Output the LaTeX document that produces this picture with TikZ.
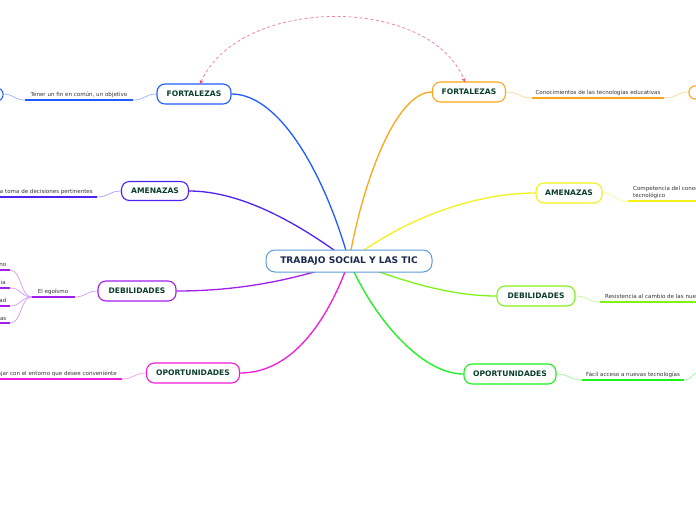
\documentclass[tikz,border=0pt]{standalone}
\usepackage{fontspec}
\setmainfont{DejaVu Sans}
\usetikzlibrary{arrows.meta}
\definecolor{cblue}{HTML}{1F5BFF}
\definecolor{cindigo}{HTML}{4E22F0}
\definecolor{cpurple}{HTML}{A21EEB}
\definecolor{cmagenta}{HTML}{F21ADB}
\definecolor{corange}{HTML}{FFA51A}
\definecolor{cyellow}{HTML}{F2F21A}
\definecolor{clime}{HTML}{7FF21A}
\definecolor{cgreen}{HTML}{1AF21A}
\definecolor{croot}{HTML}{5B9BD5}
\definecolor{ctext}{HTML}{0B3D2C}
\definecolor{croottext}{HTML}{1B2A4E}
\definecolor{cpink}{HTML}{E8507A}
\pgfdeclarelayer{bg}
\pgfsetlayers{bg,main}
\tikzset{
  mainbox/.style={draw=#1, line width=1.1pt, rounded corners=8pt, fill=white,
    minimum height=20pt, inner xsep=6pt, font=\fontsize{7.6}{8}\selectfont\bfseries, text=ctext},
  rootbox/.style={draw=croot, line width=1pt, rounded corners=9pt, fill=white,
    minimum height=22pt, minimum width=166pt, font=\fontsize{9.1}{9}\selectfont\bfseries, text=croottext},
  branch/.style={draw=#1, line width=1.3pt},
  twig/.style={draw=#1!45, line width=0.7pt},
  uline/.style={draw=#1, line width=1.6pt},
  subtext/.style={font=\fontsize{5.55}{6.3}\selectfont, text=black!80, inner sep=0pt},
}
\begin{document}
\begin{tikzpicture}[x=1pt,y=-1pt]
\useasboundingbox (0,0) rectangle (696,520);
\clip (0,0) rectangle (696,520);

% main nodes
\node[rootbox] (root) at (349,261) {TRABAJO SOCIAL Y LAS TIC};
\node[mainbox=cblue, minimum width=74pt] (lf) at (194,94) {FORTALEZAS};
\node[mainbox=cindigo, minimum width=67pt, minimum height=19pt] (la) at (155,191) {AMENAZAS};
\node[mainbox=cpurple, minimum width=78pt] (ld) at (137,291) {DEBILIDADES};
\node[mainbox=cmagenta, minimum width=93pt] (lo) at (193,373) {OPORTUNIDADES};
\node[mainbox=corange, minimum width=73pt] (rf) at (469,92) {FORTALEZAS};
\node[mainbox=cyellow, minimum width=66pt] (ra) at (569,193) {AMENAZAS};
\node[mainbox=clime, minimum width=78pt] (rd) at (536,296) {DEBILIDADES};
\node[mainbox=cgreen, minimum width=92pt] (ro) at (510,374) {OPORTUNIDADES};

% truncated nodes at the edges
\draw[cblue, line width=1pt, rounded corners=6pt, fill=white] (-60,88) rectangle (3,101);
\coordinate (lfx) at (3,94);
\draw[corange, line width=1.1pt, rounded corners=6pt, fill=white] (689,86) rectangle (760,99);
\coordinate (rfx) at (689,92);

% sub texts
\node[subtext, anchor=base] (t1) at (79,96) {Tener un fin en común, un objetivo};
\node[subtext, anchor=base east] (t2) at (93,193) {a toma de decisiones pertinentes};
\node[subtext, anchor=base] (t3) at (53,293) {El egoísmo};
\node[subtext, anchor=base east] (t3a) at (6.5,266) {no};
\node[subtext, anchor=base east] (t3b) at (6,284) {ia};
\node[subtext, anchor=base east] (t3c) at (6.5,302) {ad};
\node[subtext, anchor=base east] (t3d) at (6.5,320) {as};
\node[subtext, anchor=base east] (t4) at (117,375) {ajar con el entorno que desee conveniente};
\node[subtext, anchor=base] (t5) at (598,94) {Conocimientos de las tecnologías educativas};
\node[subtext, anchor=base west, align=left] (t6) at (633,197) {Competencia del conoc\\tecnológico};
\node[subtext, anchor=base west] (t7) at (605,298) {Resistencia al cambio de las nuev};
\node[subtext, anchor=base] (t8) at (633,376) {Fácil acceso a nuevas tecnologías};

\coordinate (u1a) at (133,100); \coordinate (u1b) at (25,100);
\coordinate (u2a) at (97,197); \coordinate (u2b) at (-5,197);
\coordinate (u3a) at (75,297); \coordinate (u3b) at (32,297);
\coordinate (u4a) at (122,379); \coordinate (u4b) at (-5,379);
\coordinate (u5a) at (532,98); \coordinate (u5b) at (664,98);
\coordinate (u6a) at (628,201); \coordinate (u6b) at (700,201);
\coordinate (u7a) at (600,302); \coordinate (u7b) at (700,302);
\coordinate (u8a) at (582,380); \coordinate (u8b) at (684,380);
\coordinate (u8x) at (700,372);
\coordinate (s1) at (10,270); \coordinate (s2) at (10,288);
\coordinate (s3) at (10,306); \coordinate (s4) at (10,323);

\begin{pgfonlayer}{bg}
% branches from root
\draw[branch=cblue] (lf.east) .. controls (280,94) and (325,175) .. (root.center);
\draw[branch=cindigo] (la.east) .. controls (245,191) and (305,228) .. (root.center);
\draw[branch=cpurple] (ld.east) .. controls (245,291) and (300,278) .. (root.center);
\draw[branch=cmagenta] (lo.east) .. controls (295,373) and (330,315) .. (root.center);
\draw[branch=corange] (rf.west) .. controls (395,92) and (362,185) .. (root.center);
\draw[branch=cyellow] (ra.west) .. controls (475,193) and (405,218) .. (root.center);
\draw[branch=clime] (rd.west) .. controls (445,296) and (395,278) .. (root.center);
\draw[branch=cgreen] (ro.west) .. controls (420,374) and (372,315) .. (root.center);

% twigs and underlines
\draw[twig=cblue] (lf.west) .. controls (145,94) and (145,100) .. (u1a);
\draw[uline=cblue] (u1a) -- (u1b);
\draw[twig=cblue] (u1b) .. controls (14,100) and (14,94) .. (lfx);

\draw[twig=cindigo] (la.west) .. controls (109,191) and (109,197) .. (u2a);
\draw[uline=cindigo] (u2a) -- (u2b);

\draw[twig=cpurple] (ld.west) .. controls (86,291) and (86,297) .. (u3a);
\draw[uline=cpurple] (u3a) -- (u3b);
\draw[twig=cpurple] (u3b) .. controls (20,297) and (22,270) .. (s1);
\draw[twig=cpurple] (u3b) .. controls (20,297) and (22,288) .. (s2);
\draw[twig=cpurple] (u3b) .. controls (20,297) and (22,306) .. (s3);
\draw[twig=cpurple] (u3b) .. controls (20,297) and (22,323) .. (s4);
\draw[uline=cpurple] (s1) -- (-5,270);
\draw[uline=cpurple] (s2) -- (-5,288);
\draw[uline=cpurple] (s3) -- (-5,306);
\draw[uline=cpurple] (s4) -- (-5,323);

\draw[twig=cmagenta] (lo.west) .. controls (134,373) and (134,379) .. (u4a);
\draw[uline=cmagenta] (u4a) -- (u4b);

\draw[twig=corange] (rf.east) .. controls (519,92) and (519,98) .. (u5a);
\draw[uline=corange] (u5a) -- (u5b);
\draw[twig=corange] (u5b) .. controls (677,98) and (677,92) .. (rfx);

\draw[twig=cyellow] (ra.east) .. controls (615,193) and (615,201) .. (u6a);
\draw[uline=cyellow] (u6a) -- (u6b);

\draw[twig=clime] (rd.east) .. controls (588,296) and (588,302) .. (u7a);
\draw[uline=clime] (u7a) -- (u7b);

\draw[twig=cgreen] (ro.east) .. controls (569,374) and (569,380) .. (u8a);
\draw[uline=cgreen] (u8a) -- (u8b);
\draw[twig=cgreen] (u8b) .. controls (692,380) and (692,372) .. (u8x);
\end{pgfonlayer}

% dashed relation
\coordinate (da) at (200,84);
\coordinate (db) at (465,82);
\draw[cpink!70, line width=0.8pt, dash pattern=on 3pt off 2.5pt,
  {Stealth[length=4pt,width=4pt,cpink]}-{Stealth[length=4pt,width=4pt,cpink]}]
  (da) .. controls (240,-5) and (430,-5) .. (db);
\end{tikzpicture}
\end{document}
